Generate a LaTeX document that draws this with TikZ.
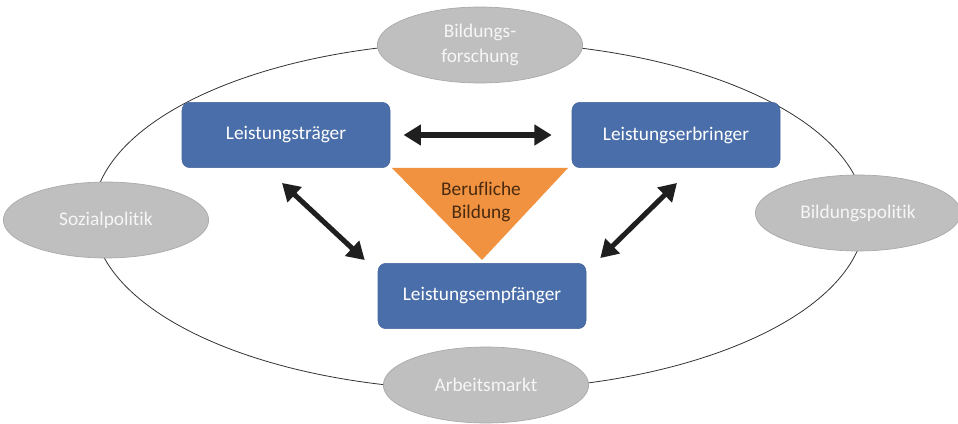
\documentclass[tikz,border=0pt]{standalone}
\usepackage{fontspec}
\setmainfont{Carlito}[Ligatures=NoCommon]
\usetikzlibrary{shapes.geometric,arrows.meta,calc}

\definecolor{boxblue}{HTML}{4A6EA9}
\definecolor{boxblueline}{HTML}{41639B}
\definecolor{fieldgray}{HTML}{BFBFBF}
\definecolor{fieldline}{HTML}{A8A8A8}
\definecolor{fieldtext}{HTML}{F6F6F6}
\definecolor{wedge}{HTML}{F0923F}
\definecolor{wedgetext}{HTML}{4A2A10}

\tikzset{
  actor/.style={draw=boxblueline, fill=boxblue, rounded corners=6pt,
    minimum width=156pt, minimum height=49pt, inner sep=0pt,
    text=white, font=\fontsize{14.5}{18}\selectfont},
  field/.style={ellipse, draw=fieldline, line width=0.5pt, fill=fieldgray,
    minimum width=154pt, minimum height=57pt, inner sep=0pt,
    text=fieldtext, align=center, font=\fontsize{14.5}{19}\selectfont},
  biarrow/.style={line width=3.8pt, black!88,
    {Triangle[length=13pt,width=15pt]}-{Triangle[length=13pt,width=15pt]}},
}

\begin{document}
\begin{tikzpicture}[x=0.75pt,y=-0.75pt]
\useasboundingbox (0,0) rectangle (958,424);

% surrounding ring of influences
\node[ellipse, draw=black!80, line width=0.6pt, minimum width=579pt,
      minimum height=261pt, inner sep=0pt] (ring) at (479,216) {};

% outer fields
\node[field] (forschung) at (480,45)  {Bildungs-\\forschung};
\node[field] (sozial)    at (106,220) {Sozialpolitik};
\node[field] (politik)   at (858,213) {Bildungspolitik};
\node[field] (arbeit)    at (486,385) {Arbeitsmarkt};

% central wedge
\fill[wedge] (392,168) -- (568,168) -- (482,260) -- cycle;
\node[text=wedgetext, align=center, font=\fontsize{14.5}{17}\selectfont]
  (beruf) at (481,202) {Berufliche\\Bildung};

% actors
\node[actor] (traeger)    at (286,135) {Leistungsträger};
\node[actor] (erbringer)  at (676,135) {Leistungserbringer};
\node[actor] (empfaenger) at (482,296) {Leistungsempfänger};

% arrow ends
\coordinate (t1) at ($(traeger.south)+(-4,15)$);
\coordinate (e1) at ($(empfaenger.north west)+(-13,-3)$);
\coordinate (t2) at ($(erbringer.south)+(1,15)$);
\coordinate (e2) at ($(empfaenger.north east)+(14,-5)$);

% relations between actors
\draw[biarrow, shorten <=10pt, shorten >=15pt] (traeger.east) -- (erbringer.west);
\draw[biarrow] (t1) -- (e1);
\draw[biarrow] (t2) -- (e2);
\end{tikzpicture}
\end{document}
